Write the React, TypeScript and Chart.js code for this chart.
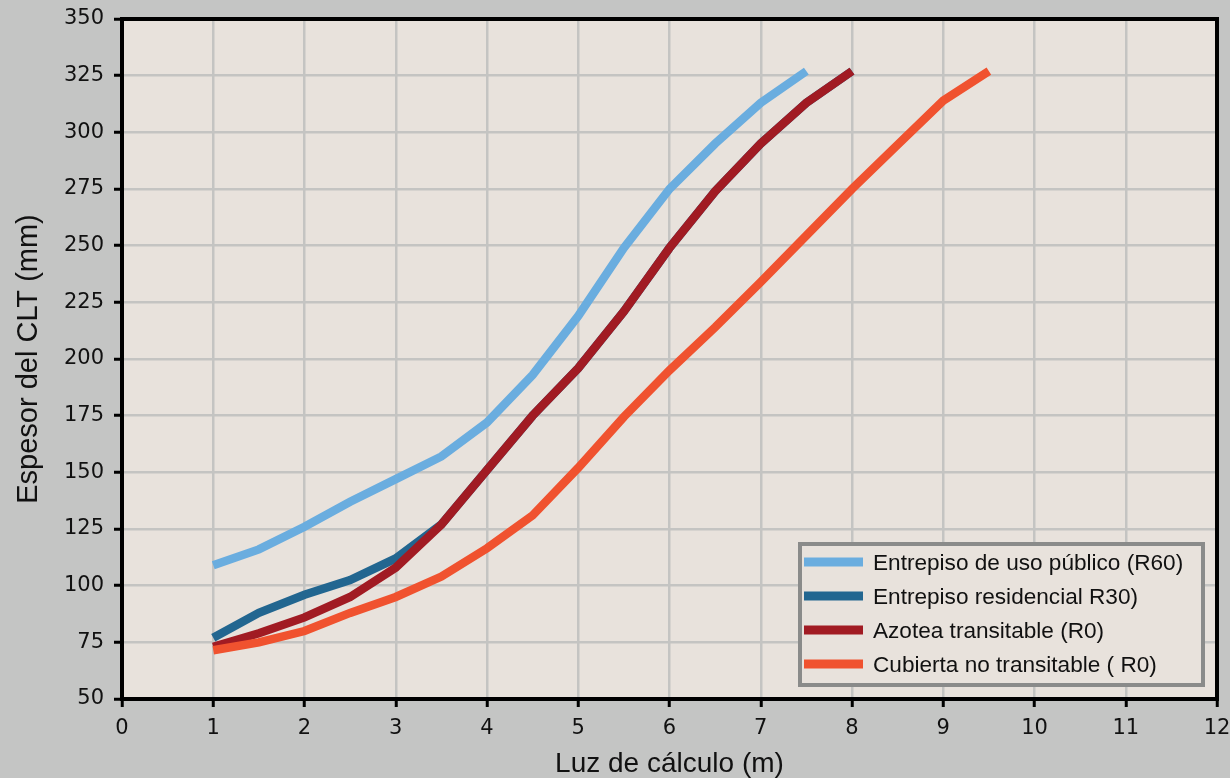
import React, { useEffect, useRef } from "react";
import { Chart, registerables } from "chart.js";

Chart.register(...registerables);

// ---- data ----
const spanValues = [1, 1.5, 2, 2.5, 3, 3.5, 4, 4.5, 5, 5.5, 6, 6.5, 7, 7.5, 8, 8.5, 9, 9.5];
const seriesNames = [
  "Entrepiso de uso público (R60)",
  "Entrepiso residencial R30)",
  "Azotea transitable (R0)",
  "Cubierta no transitable ( R0)",
];
const publicFloor = [109, 116, 126, 137, 147, 157, 172, 193, 219, 249, 275, 295, 313, 327];
const residentialFloor = [77, 88, 96, 102.5, 112, 127, 151, 175, 196, 221, 249, 274, 295, 313, 327];
const walkableRoof = [73, 79, 86, 95, 108, 127, 151, 175, 196, 221, 249, 274, 295, 313, 327];
const nonWalkableRoof = [71.5, 75, 80, 88, 95, 104, 116.5, 131, 152, 174.5, 195, 214, 234, 254.5, 275, 294.5, 314, 327];
const seriesColors = ["#6aaddf", "#226690", "#a11b23", "#f0522f"];
const xTitle = "Luz de cálculo (m)";
const yTitle = "Espesor del CLT (mm)";

const FONT = "'Liberation Sans', Arial, sans-serif";
const TICK_FONT = "'DejaVu Sans', sans-serif";
const OUTER_BG = "#c4c5c4";
const PLOT_BG = "#e8e2dc";
const GRID = "#c4c4c2";

const toPoints = (vals: number[]) => vals.map((v, i) => ({ x: spanValues[i], y: v }));

const backgroundPlugin = {
  id: "bgPlugin",
  beforeDraw(chart: any) {
    const { ctx, chartArea, width, height } = chart;
    ctx.save();
    ctx.fillStyle = OUTER_BG;
    ctx.fillRect(0, 0, width, height);
    ctx.fillStyle = PLOT_BG;
    ctx.fillRect(chartArea.left, chartArea.top, chartArea.right - chartArea.left, chartArea.bottom - chartArea.top);
    ctx.restore();
  },
  afterDraw(chart: any) {
    const { ctx, chartArea } = chart;
    ctx.save();
    // frame
    ctx.strokeStyle = "#000";
    ctx.lineWidth = 4;
    ctx.strokeRect(chartArea.left, chartArea.top, chartArea.right - chartArea.left, chartArea.bottom - chartArea.top);
    // legend
    const boxW = 403;
    const boxH = 141;
    const bx = chartArea.right - 14 - boxW;
    const by = chartArea.bottom - 14 - boxH;
    ctx.fillStyle = PLOT_BG;
    ctx.fillRect(bx, by, boxW, boxH);
    ctx.strokeStyle = "#8a8b8a";
    ctx.lineWidth = 4;
    ctx.strokeRect(bx, by, boxW, boxH);
    ctx.font = `22.6px ${FONT}`;
    ctx.textAlign = "left";
    ctx.textBaseline = "alphabetic";
    chart.data.datasets.forEach((ds: any, i: number) => {
      const ry = by + 18 + i * 34;
      ctx.fillStyle = ds.borderColor;
      ctx.fillRect(bx + 4, ry - 4.5, 59, 9);
      ctx.fillStyle = "#111";
      ctx.fillText(ds.label, bx + 73, ry + 8);
    });
    ctx.restore();
  },
};

export default function App() {
  const canvasRef = useRef<HTMLCanvasElement | null>(null);

  useEffect(() => {
    document.body.style.margin = "0";
    const canvas = canvasRef.current;
    if (!canvas) return;
    const seriesValues = [publicFloor, residentialFloor, walkableRoof, nonWalkableRoof];
    const drawOrder = [3, 2, 1, 0];
    const chart = new Chart(canvas, {
      type: "line",
      data: {
        datasets: seriesValues.map((vals, i) => ({
          label: seriesNames[i],
          data: toPoints(vals),
          borderColor: seriesColors[i],
          backgroundColor: seriesColors[i],
          borderWidth: 8.5,
          borderCapStyle: "butt",
          borderJoinStyle: "miter",
          pointRadius: 0,
          pointHoverRadius: 0,
          tension: 0,
          fill: false,
          order: drawOrder[i],
        })),
      },
      options: {
        animation: false,
        responsive: false,
        devicePixelRatio: 1,
        layout: { padding: { top: 19, right: 13, left: 0, bottom: 0 } },
        plugins: {
          legend: { display: false },
          tooltip: { enabled: false },
        },
        scales: {
          x: {
            type: "linear",
            min: 0,
            max: 12,
            afterFit: (scale: any) => {
              scale.height = 79;
              scale.paddingLeft = 0;
              scale.paddingRight = 0;
            },
            ticks: {
              stepSize: 1,
              color: "#111",
              font: { family: TICK_FONT, size: 21 },
              padding: 9,
              maxRotation: 0,
            },
            grid: {
              color: GRID,
              lineWidth: 2.5,
              tickColor: "#000",
              tickWidth: 3,
              tickLength: 8,
            },
            border: { display: true, color: "#000", width: 4 },
            title: {
              display: true,
              text: xTitle,
              color: "#111",
              font: { family: FONT, size: 28, lineHeight: 1 },
              padding: { top: 0, bottom: 0 },
            },
          },
          y: {
            type: "linear",
            min: 50,
            max: 350,
            afterFit: (scale: any) => {
              scale.width = 122;
              scale.paddingTop = 0;
              scale.paddingBottom = 0;
            },
            ticks: {
              stepSize: 25,
              color: "#111",
              font: { family: TICK_FONT, size: 21 },
              padding: 10,
            },
            grid: {
              color: GRID,
              lineWidth: 2.5,
              tickColor: "#000",
              tickWidth: 3,
              tickLength: 8,
            },
            border: { display: true, color: "#000", width: 4 },
            title: {
              display: true,
              text: yTitle,
              color: "#111",
              font: { family: FONT, size: 29, lineHeight: 1 },
              padding: { top: 14, bottom: 0 },
            },
          },
        },
      },
      plugins: [backgroundPlugin],
    } as any);
    return () => chart.destroy();
  }, []);

  return (
    <div style={{ width: 1230, height: 778 }}>
      <canvas ref={canvasRef} width={1230} height={778} style={{ display: "block" }} />
    </div>
  );
}
